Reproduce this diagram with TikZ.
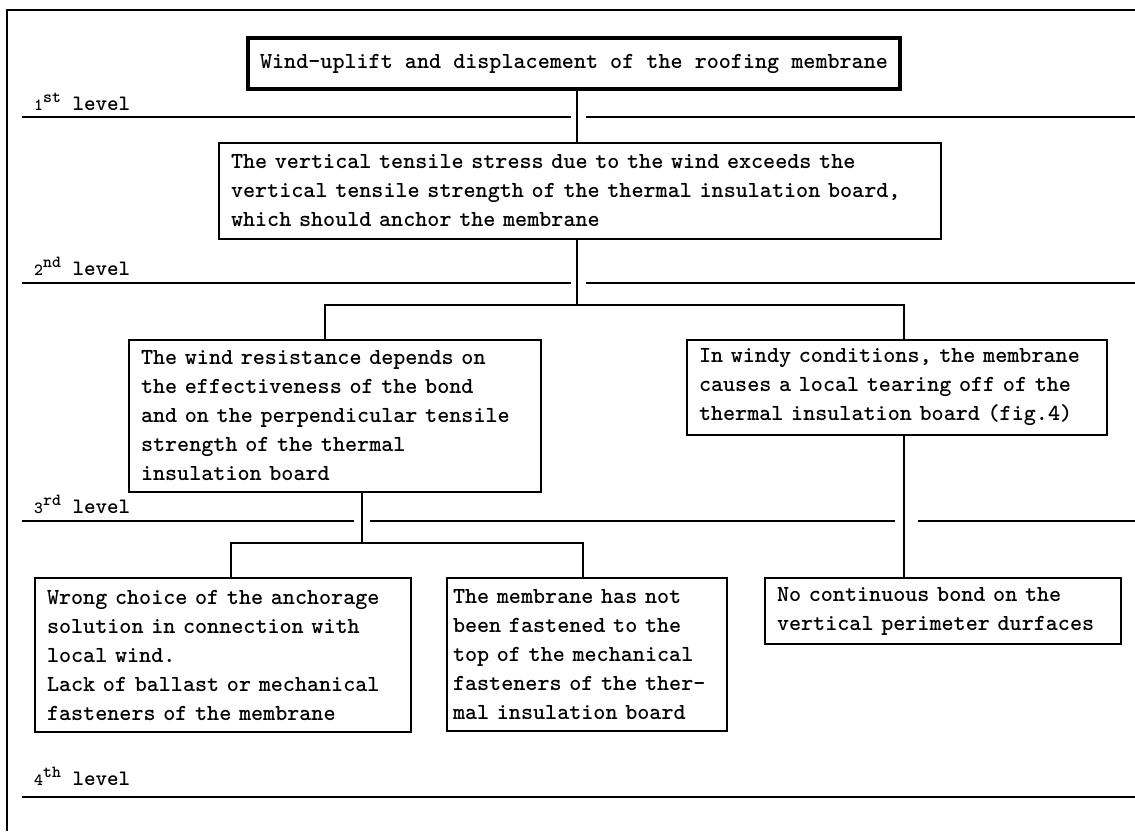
\documentclass[tikz,border=0pt]{standalone}
\usepackage{fontspec}
\newcommand\levelmark[2]{{\fontsize{17}{17}\selectfont #1}\raisebox{8pt}{\fontsize{17}{17}\selectfont #2} level}
\begin{document}
\begin{tikzpicture}[x=1pt,y=-1pt,
  ink/.style={draw=black},
  box/.style={ink,line width=1.8pt,inner sep=0pt,align=left,
    font=\ttfamily\bfseries\fontsize{23}{29}\selectfont},
  topbox/.style={box,line width=3.6pt,align=center},
  conn/.style={ink,line width=1.8pt},
  rule/.style={ink,line width=2.2pt},
  lvl/.style={anchor=base west,inner sep=0pt,font=\ttfamily\bfseries\fontsize{22}{22}\selectfont}]
\useasboundingbox (0,0) rectangle (1135,831);

% outer frame
\draw[rule] (7,831) -- (7,10) -- (1135,10);

% level labels and rules
\node[lvl] (lv1) at (34,110) {\levelmark{1}{st}};
\node[lvl] (lv2) at (34,275) {\levelmark{2}{nd}};
\node[lvl] (lv3) at (34,513) {\levelmark{3}{rd}};
\node[lvl] (lv4) at (34,785) {\levelmark{4}{th}};
\draw[rule] (22,117) -- (571,117);  \draw[rule] (586,117) -- (1135,117);
\draw[rule] (22,283) -- (571,283);  \draw[rule] (586,283) -- (1135,283);
\draw[rule] (22,521) -- (354,521);  \draw[rule] (370,521) -- (895,521);
\draw[rule] (918,521) -- (1135,521);
\draw[rule] (22,797) -- (1135,797);

% boxes
\node[topbox,minimum width=652,minimum height=51] (B1) at (574,63.5)
  {Wind-uplift and displacement of the roofing membrane};
\node[box,minimum width=722,minimum height=96,text width=698pt] (B2) at (580,191)
  {The vertical tensile stress due to the wind exceeds the\\
   vertical tensile strength of the thermal insulation board,\\
   which should anchor the membrane};
\node[box,minimum width=412,minimum height=152,text width=388pt] (B3L) at (335,416)
  {The wind resistance depends on\\
   the effectiveness of the bond\\
   and on the perpendicular tensile\\
   strength of the thermal\\
   insulation board};
\node[box,minimum width=420,minimum height=95,text width=396pt] (B3R) at (897,387.5)
  {In windy conditions, the membrane\\
   causes a local tearing off of the\\
   thermal insulation board (fig.4)};
\node[box,minimum width=376,minimum height=154,text width=352pt] (B4L) at (223,655)
  {Wrong choice of the anchorage\\
   solution in connection with\\
   local wind.\\
   Lack of ballast or mechanical\\
   fasteners of the membrane};
\node[box,minimum width=280,minimum height=153,text width=268pt] (B4M) at (587,654.5)
  {The membrane has not\\
   been fastened to the\\
   top of the mechanical\\
   fasteners of the ther-\\
   mal insulation board};
\node[box,minimum width=356,minimum height=66,text width=332pt] (B4R) at (943,611)
  {No continuous bond on the\\
   vertical perimeter durfaces};

% connectors
\coordinate (T) at (577,0);
\coordinate (J1) at (577,305);
\coordinate (L1) at (325,305);
\coordinate (R1) at (904,305);
\coordinate (J2) at (362,543);
\coordinate (L2) at (231,543);
\coordinate (R2) at (583,543);
\draw[conn] (B1.south -| T) -- (B2.north -| T);
\draw[conn] (B2.south -| J1) -- (J1);
\draw[conn] (L1 |- B3L.north) -- (L1) -- (R1) -- (R1 |- B3R.north);
\draw[conn] (B3L.south -| J2) -- (J2);
\draw[conn] (L2 |- B4L.north) -- (L2) -- (R2) -- (R2 |- B4M.north);
\draw[conn] (B3R.south -| R1) -- (B4R.north -| R1);
\end{tikzpicture}
\end{document}
